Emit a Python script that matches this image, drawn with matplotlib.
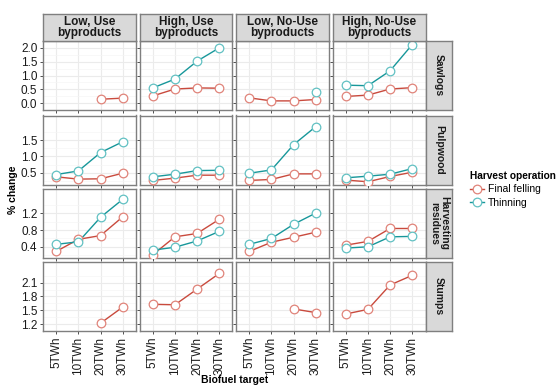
import numpy as np
import matplotlib
matplotlib.use("Agg")
import matplotlib.pyplot as plt
from matplotlib.lines import Line2D

plt.rcParams["font.family"] = ["Liberation Sans", "DejaVu Sans"]

targets = ["5TWh", "10TWh", "20TWh", "30TWh"]
scenarios = ["Low, Use\nbyproducts", "High, Use\nbyproducts",
             "Low, No-Use\nbyproducts", "High, No-Use\nbyproducts"]
products = ["Sawlogs", "Pulpwood", "Harvesting\nresidues", "Stumps"]
nan = np.nan

# one list per scenario, values per target
sawlogs_ff = [[nan, nan, 0.14, 0.18], [0.26, 0.51, 0.55, 0.54],
              [0.19, 0.08, 0.08, 0.13], [0.24, 0.29, 0.51, 0.56]]
sawlogs_th = [[nan, nan, nan, nan], [0.55, 0.87, 1.52, 2.00],
              [nan, nan, nan, 0.39], [0.65, 0.63, 1.17, 2.12]]
pulpwood_ff = [[0.38, 0.31, 0.32, 0.49], [0.27, 0.34, 0.43, 0.43],
               [0.27, 0.30, 0.47, 0.47], [0.28, 0.23, 0.39, 0.52]]
pulpwood_th = [[0.45, 0.56, 1.12, 1.45], [0.38, 0.46, 0.57, 0.58],
               [0.49, 0.59, 1.36, 1.91], [0.35, 0.40, 0.46, 0.63]]
residues_ff = [[0.29, 0.58, 0.67, 1.12], [0.21, 0.64, 0.72, 1.06],
               [0.29, 0.51, 0.63, 0.75], [0.44, 0.53, 0.84, 0.84]]
residues_th = [[0.46, 0.52, 1.11, 1.54], [0.32, 0.39, 0.54, 0.77],
               [0.46, 0.60, 0.94, 1.21], [0.37, 0.40, 0.64, 0.65]]
stumps_ff = [[nan, nan, 1.22, 1.57], [1.63, 1.62, 1.96, 2.30],
             [nan, nan, 1.53, 1.45], [1.42, 1.52, 2.05, 2.26]]
stumps_th = [[nan] * 4 for _ in range(4)]

ff_rows = [sawlogs_ff, pulpwood_ff, residues_ff, stumps_ff]
th_rows = [sawlogs_th, pulpwood_th, residues_th, stumps_th]
y_ticks = [[0.0, 0.5, 1.0, 1.5, 2.0], [0.5, 1.0, 1.5],
           [0.4, 0.8, 1.2], [1.2, 1.5, 1.8, 2.1]]

ff_line, ff_mark = "#C94A3D", "#E0847A"
th_line, th_mark = "#17979A", "#62C1C3"
border = "#7F7F7F"

W, H = 558, 385
fig = plt.figure(figsize=(W / 100, H / 100), dpi=100)

col_left = [43, 139.5, 236, 332.5]
col_w = 93
row_top = [41, 115.5, 188.5, 262]
row_h = 69
strip_h = 27
strip_w = 27


def box(x, y, w, h):
    return [x / W, 1 - (y + h) / H, w / W, h / H]


def draw_series(ax, vals, lc, mc):
    x = np.arange(1, 5)
    v = np.array(vals, dtype=float)
    ax.plot(x, v, color=lc, lw=1.0, zorder=3)
    ax.plot(x, v, ls="none", marker="o", ms=6.2, mfc="white", mec=mc,
            mew=0.9, zorder=4)


for r in range(4):
    allv = np.array(ff_rows[r] + th_rows[r], dtype=float)
    lo, hi = np.nanmin(allv), np.nanmax(allv)
    pad = (hi - lo) * 0.05
    for c in range(4):
        ax = fig.add_axes(box(col_left[c], row_top[r], col_w, row_h))
        ax.set_facecolor("white")
        ax.set_xlim(0.4, 4.6)
        ax.set_ylim(lo - pad, hi + pad)
        ax.set_xticks(range(1, 5))
        ax.set_yticks(y_ticks[r])
        t = y_ticks[r]
        step = t[1] - t[0]
        minors = np.arange(t[0] - step / 2, hi + pad + step, step)
        ax.set_yticks(minors, minor=True)
        ax.grid(True, which="major", color="#EBEBEB", lw=0.8, zorder=0)
        ax.grid(True, which="minor", axis="y", color="#F5F5F5", lw=0.5, zorder=0)
        ax.set_axisbelow(True)
        for s in ax.spines.values():
            s.set_color(border)
            s.set_linewidth(1.0)
        ax.tick_params(which="major", length=2.5, width=0.6, color="#333333",
                       labelsize=8.5, labelcolor="#1a1a1a", pad=1.5)
        ax.tick_params(which="minor", length=0)
        if c == 0:
            ax.set_yticklabels([f"{v:.1f}" for v in y_ticks[r]])
        else:
            ax.set_yticklabels([])
        if r == 3:
            ax.set_xticklabels(targets, rotation=90)
        else:
            ax.set_xticklabels([])
        draw_series(ax, ff_rows[r][c], ff_line, ff_mark)
        draw_series(ax, th_rows[r][c], th_line, th_mark)

# top strips
for c in range(4):
    sa = fig.add_axes(box(col_left[c], row_top[0] - strip_h, col_w, strip_h))
    sa.set_facecolor("#D9D9D9")
    sa.set_xticks([])
    sa.set_yticks([])
    for s in sa.spines.values():
        s.set_color(border)
        s.set_linewidth(1.0)
    sa.text(0.5, 0.5, scenarios[c], ha="center", va="center", fontsize=8.5,
            fontweight="bold", color="#1a1a1a", linespacing=0.95,
            transform=sa.transAxes)

# right strips
for r in range(4):
    sa = fig.add_axes(box(col_left[3] + col_w, row_top[r], strip_w, row_h))
    sa.set_facecolor("#D9D9D9")
    sa.set_xticks([])
    sa.set_yticks([])
    for s in sa.spines.values():
        s.set_color(border)
        s.set_linewidth(1.0)
    sa.text(0.5, 0.5, products[r], ha="center", va="center", fontsize=7.5,
            fontweight="bold", color="#1a1a1a", rotation=-90, linespacing=1.0,
            transform=sa.transAxes)

fig.text(13 / W, 1 - 190 / H, "% change", rotation=90, ha="center",
         va="center", fontsize=7.5, fontweight="bold")
fig.text(235 / W, 1 - 380 / H, "Biofuel target", ha="center", va="center",
         fontsize=7.5, fontweight="bold")

handles = [
    Line2D([], [], color=ff_line, lw=1.0, marker="o", ms=6.2, mfc="white",
           mec=ff_mark, mew=0.9),
    Line2D([], [], color=th_line, lw=1.0, marker="o", ms=6.2, mfc="white",
           mec=th_mark, mew=0.9),
]
leg = fig.legend(handles, ["Final felling", "Thinning"], title="Harvest operation",
                 loc="upper left", bbox_to_anchor=(464 / W, 1 - 165 / H),
                 frameon=False, fontsize=7.5, title_fontsize=7.3,
                 handlelength=1.3, handletextpad=0.4, labelspacing=0.3,
                 borderpad=0.1)
leg.get_title().set_fontweight("bold")
leg._legend_box.align = "left"

fig.savefig("out.png", dpi=100)
